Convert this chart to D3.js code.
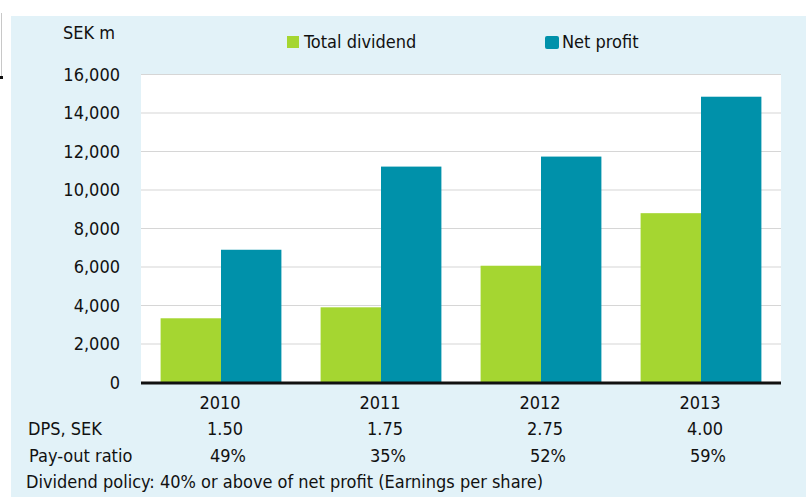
<!DOCTYPE html>
<html>
<head>
<meta charset="utf-8">
<script src="https://cdn.jsdelivr.net/npm/d3@7"></script>
<style>
	body { margin: 0; background: #fff; }
	text { font-family: "DejaVu Sans Condensed", "DejaVu Sans", sans-serif; fill: #111; font-size: 18px; }
</style>
</head>
<body>
<div id="chart"></div>
<script>
const years = ["2010", "2011", "2012", "2013"];
const seriesNames = ["Total dividend", "Net profit"];
const totalDividend = [3310, 3880, 6040, 8770];
const netProfit = [6870, 11190, 11710, 14820];
const dps = ["1.50", "1.75", "2.75", "4.00"];
const payoutRatio = ["49%", "35%", "52%", "59%"];
const yTicks = [0, 2000, 4000, 6000, 8000, 10000, 12000, 14000, 16000];

const width = 806,
	height = 497;
const colors = ["#a5d631", "#0091aa"];

const plot = { left: 141, right: 781, top: 74, bottom: 382 };

const svg = d3
	.select("#chart")
	.append("svg")
	.attr("width", width)
	.attr("height", height);

// light blue panel
svg.append("rect")
	.attr("x", 11)
	.attr("y", 16)
	.attr("width", width - 11)
	.attr("height", height - 16)
	.attr("fill", "#e2f2f8");

// bits of the page edge on the left
svg.append("line")
	.attr("x1", 1.5).attr("x2", 1.5)
	.attr("y1", 13).attr("y2", 78)
	.attr("stroke", "#c8c8c8");
svg.append("rect")
	.attr("x", 0).attr("y", 76)
	.attr("width", 3).attr("height", 3)
	.attr("fill", "#111");

svg.append("rect")
	.attr("x", plot.left)
	.attr("y", plot.top)
	.attr("width", plot.right - plot.left)
	.attr("height", plot.bottom - plot.top)
	.attr("fill", "#fff");

const y = d3.scaleLinear().domain([0, 16000]).range([plot.bottom, plot.top]);
const x0 = d3.scaleBand().domain(years).range([plot.left, plot.right]).paddingInner(0.245).paddingOuter(0.1225);
const x1 = d3.scaleBand().domain(seriesNames).range([0, x0.bandwidth()]);

// gridlines
svg.append("g")
	.selectAll("line")
	.data(yTicks.slice(1))
	.join("line")
	.attr("x1", plot.left)
	.attr("x2", plot.right)
	.attr("y1", (d) => y(d) + 0.5)
	.attr("y2", (d) => y(d) + 0.5)
	.attr("stroke", "#d6d6d6")
	.attr("stroke-width", 1.2);

// y axis labels
const fmt = d3.format(",");
svg.append("g")
	.selectAll("text")
	.data(yTicks)
	.join("text")
	.attr("x", 120)
	.attr("y", (d) => y(d) + 6.5)
	.attr("text-anchor", "end")
	.text((d) => fmt(d));

svg.append("text")
	.attr("x", 63)
	.attr("y", 39)
	.text("SEK m");

// bars
const rows = years.map((yr, i) => ({ year: yr, values: [totalDividend[i], netProfit[i]] }));

svg.append("g")
	.selectAll("g")
	.data(rows)
	.join("g")
	.attr("transform", (d) => `translate(${x0(d.year)},0)`)
	.selectAll("rect")
	.data((d) => d.values.map((v, k) => ({ key: seriesNames[k], value: v, k: k })))
	.join("rect")
	.attr("x", (d) => x1(d.key))
	.attr("y", (d) => y(d.value))
	.attr("width", x1.bandwidth())
	.attr("height", (d) => y(0) - y(d.value))
	.attr("fill", (d) => colors[d.k]);

// baseline
svg.append("line")
	.attr("x1", plot.left)
	.attr("x2", plot.right)
	.attr("y1", y(0) + 1)
	.attr("y2", y(0) + 1)
	.attr("stroke", "#111")
	.attr("stroke-width", 3);

// legend
const legendX = [287, 545];
const legend = svg.append("g")
	.selectAll("g")
	.data(seriesNames)
	.join("g")
	.attr("transform", (d, i) => `translate(${legendX[i]},36)`);
legend.append("rect")
	.attr("width", (d, i) => (i ? 14 : 12))
	.attr("height", (d, i) => (i ? 13 : 12))
	.attr("rx", (d, i) => (i ? 2 : 0))
	.attr("fill", (d, i) => colors[i]);
legend.append("text")
	.attr("x", 17)
	.attr("y", 12)
	.text((d) => d);

// table under the chart
const cx = (yr) => x0(yr) + x0.bandwidth() / 2;

svg.append("g")
	.selectAll("text")
	.data(years)
	.join("text")
	.attr("x", (d) => cx(d) - 1)
	.attr("y", 409)
	.attr("text-anchor", "middle")
	.text((d) => d);

svg.append("g")
	.selectAll("text")
	.data(dps)
	.join("text")
	.attr("x", (d, i) => cx(years[i]) + 4)
	.attr("y", 435)
	.attr("text-anchor", "middle")
	.text((d) => d);

svg.append("g")
	.selectAll("text")
	.data(payoutRatio)
	.join("text")
	.attr("x", (d, i) => cx(years[i]) + 7)
	.attr("y", 462)
	.attr("text-anchor", "middle")
	.text((d) => d);

svg.append("text")
	.attr("x", 28)
	.attr("y", 435)
	.text("DPS, SEK");

svg.append("text")
	.attr("x", 29)
	.attr("y", 462)
	.text("Pay-out ratio");

svg.append("text")
	.attr("x", 26)
	.attr("y", 488)
	.text("Dividend policy: 40% or above of net profit (Earnings per share)");
</script>
</body>
</html>
